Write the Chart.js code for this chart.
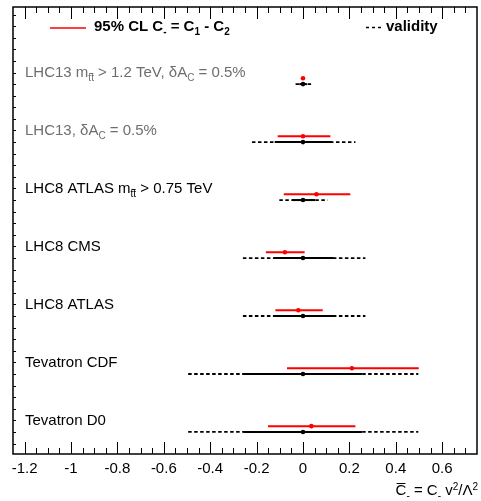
<!DOCTYPE html>
<html>
<head>
<meta charset="utf-8">
<script src="https://cdn.jsdelivr.net/npm/chart.js@4.4.1/dist/chart.umd.min.js"></script>
<style>
  body { margin: 0; background: #fff; }
  canvas { display: block; }
</style>
</head>
<body>
<canvas id="chart" width="481" height="501"></canvas>
<script>
// rows from top to bottom
const rowLabels = [
    "LHC13 m_{tt} > 1.2 TeV, δA_{C} = 0.5%",
    "LHC13, δA_{C} = 0.5%",
    "LHC8 ATLAS m_{tt} > 0.75 TeV",
    "LHC8 CMS",
    "LHC8 ATLAS",
    "Tevatron CDF",
    "Tevatron D0"
];
const rowGray = [true, true, false, false, false, false, false];
const rowPos = [6, 5, 4, 3, 2, 1, 0];

// 95% CL on C- (red)
const redCentral = [0.0, 0.0, 0.058, -0.078, -0.02, 0.211, 0.036];
const redLow = [-0.004, -0.109, -0.083, -0.16, -0.119, -0.069, -0.151];
const redHigh = [0.004, 0.118, 0.204, 0.007, 0.085, 0.499, 0.226];

// validity ranges (black)
const validLow = [-0.032, -0.22, -0.102, -0.259, -0.259, -0.495, -0.495];
const validHigh = [0.035, 0.226, 0.106, 0.269, 0.269, 0.497, 0.497];
const solidLow = [-0.016, -0.122, -0.047, -0.126, -0.126, -0.256, -0.256];
const solidHigh = [0.017, 0.125, 0.053, 0.132, 0.132, 0.254, 0.254];

const xTicks = [-1.2, -1, -0.8, -0.6, -0.4, -0.2, 0, 0.2, 0.4, 0.6];
const xMin = -1.25, xMax = 0.75;
const redOffset = 0.1;

const FONT = '"Liberation Sans", Arial, sans-serif';

// split "a_{b}c^{d}" into parts
function parseRich(str) {
    const parts = [];
    const re = /([_^])\{([^}]*)\}/g;
    let last = 0, m;
    while ((m = re.exec(str)) !== null) {
        if (m.index > last) parts.push([str.slice(last, m.index), '']);
        parts.push([m[2], m[1] === '_' ? 'sub' : 'sup']);
        last = re.lastIndex;
    }
    if (last < str.length) parts.push([str.slice(last), '']);
    return parts;
}

function drawRich(ctx, x, y, parts, size, weight, color, align) {
    const small = Math.round(size * 0.68);
    const fontFor = mode => (weight + ' ' + ((mode === 'sub' || mode === 'sup') ? small : size) + 'px ' + FONT);
    let total = 0;
    parts.forEach(p => { ctx.font = fontFor(p[1]); total += ctx.measureText(p[0]).width; });
    let cx = align === 'right' ? x - total : x;
    ctx.save();
    ctx.fillStyle = color;
    ctx.strokeStyle = color;
    ctx.textBaseline = 'middle';
    ctx.textAlign = 'left';
    parts.forEach(p => {
        ctx.font = fontFor(p[1]);
        let dy = 0;
        if (p[1] === 'sub') dy = size * 0.38;
        if (p[1] === 'sup') dy = -size * 0.28;
        const w = ctx.measureText(p[0]).width;
        ctx.fillText(p[0], cx, y + dy);
        if (p[1] === 'bar') {
            ctx.lineWidth = 1;
            ctx.beginPath();
            ctx.moveTo(cx + 1, y - size * 0.5);
            ctx.lineTo(cx + w - 1, y - size * 0.5);
            ctx.stroke();
        }
        cx += w;
    });
    ctx.restore();
}

const framePlugin = {
    id: 'frame',
    afterDraw(chart) {
        const { ctx, chartArea: { left, right, top, bottom }, scales: { x, y } } = chart;
        ctx.save();
        ctx.strokeStyle = '#000';
        ctx.lineWidth = 1.5;
        ctx.strokeRect(left, top, right - left, bottom - top);

        // x ticks, inward, bottom and top
        ctx.lineWidth = 1;
        ctx.beginPath();
        for (let i = 0; i <= 40; i++) {
            const v = xMin + i * 0.05;
            const px = Math.round(x.getPixelForValue(v)) + 0.5;
            if (px <= left + 1 || px >= right - 1) continue;
            const major = Math.abs(v / 0.2 - Math.round(v / 0.2)) < 1e-6;
            const len = major ? 12 : 6;
            ctx.moveTo(px, bottom);
            ctx.lineTo(px, bottom - len);
            ctx.moveTo(px, top);
            ctx.lineTo(px, top + len);
        }
        // small y ticks on the left frame
        for (let v = -0.2; v <= 7.3; v += 0.2) {
            const py = Math.round(y.getPixelForValue(v)) + 0.5;
            if (py <= top + 2 || py >= bottom - 2) continue;
            ctx.moveTo(left, py);
            ctx.lineTo(left + 3, py);
        }
        ctx.stroke();

        // row labels
        rowLabels.forEach((lab, i) => {
            drawRich(ctx, left + 12, y.getPixelForValue(rowPos[i] + 0.2), parseRich(lab), 15, 'normal',
                rowGray[i] ? '#6e6e6e' : '#000', 'left');
        });
        // subscript bar over "tt"
        [0, 2].forEach(i => {
            ctx.font = '15px ' + FONT;
            const pre = parseRich(rowLabels[i])[0][0];
            const sx = left + 12 + ctx.measureText(pre).width;
            const sy = y.getPixelForValue(rowPos[i] + 0.2) + 1;
            ctx.lineWidth = 1;
            ctx.strokeStyle = rowGray[i] ? '#6e6e6e' : '#000';
            ctx.beginPath();
            ctx.moveTo(sx + 1, sy);
            ctx.lineTo(sx + 5, sy);
            ctx.stroke();
        });

        // legend
        ctx.strokeStyle = '#ff0000';
        ctx.lineWidth = 1.5;
        ctx.beginPath();
        ctx.moveTo(50, 28);
        ctx.lineTo(86, 28);
        ctx.stroke();
        drawRich(ctx, 94, 27, [['95% CL C', ''], ['-', 'sub'], [' = C', ''], ['1', 'sub'], [' - C', ''], ['2', 'sub']],
            15, 'bold', '#000', 'left');
        ctx.strokeStyle = '#000';
        ctx.setLineDash([3, 3]);
        ctx.beginPath();
        ctx.moveTo(366, 27.5);
        ctx.lineTo(384, 27.5);
        ctx.stroke();
        ctx.setLineDash([]);
        drawRich(ctx, 386, 27, [['validity', '']], 15, 'bold', '#000', 'left');

        // axis title
        drawRich(ctx, 478, 491, [['C', 'bar'], ['-', 'sub'], [' = C', ''], ['-', 'sub'], [' v', ''], ['2', 'sup'], ['/Λ', ''], ['2', 'sup']],
            15, 'normal', '#000', 'right');
        ctx.restore();
    }
};

const datasets = [];
rowPos.forEach((yv, i) => {
    datasets.push({
        data: [{ x: validLow[i], y: yv }, { x: validHigh[i], y: yv }],
        showLine: true, borderColor: '#000', borderWidth: 1.8, borderDash: [3.5, 2.5], pointRadius: 0
    });
    datasets.push({
        data: [{ x: solidLow[i], y: yv }, { x: solidHigh[i], y: yv }],
        showLine: true, borderColor: '#000', borderWidth: 2, pointRadius: 0
    });
    datasets.push({
        data: [{ x: redLow[i], y: yv + redOffset }, { x: redHigh[i], y: yv + redOffset }],
        showLine: true, borderColor: '#ff0000', borderWidth: 2, pointRadius: 0
    });
});
datasets.push({
    data: rowPos.map(yv => ({ x: 0, y: yv })),
    showLine: false, pointRadius: 2.3, pointBackgroundColor: '#000', pointBorderWidth: 0
});
datasets.push({
    data: rowPos.map((yv, i) => ({ x: redCentral[i], y: yv + redOffset })),
    showLine: false, pointRadius: 2.3, pointBackgroundColor: '#ff0000', pointBorderWidth: 0
});

new Chart(document.getElementById('chart').getContext('2d'), {
    type: 'scatter',
    data: { datasets },
    options: {
        responsive: false,
        animation: false,
        layout: { padding: { left: 13, right: 2, top: 7, bottom: 0 } },
        plugins: { legend: { display: false }, tooltip: { enabled: false } },
        scales: {
            x: {
                type: 'linear',
                min: xMin,
                max: xMax,
                grid: { display: false, drawTicks: false },
                border: { display: false },
                afterBuildTicks: scale => { scale.ticks = xTicks.map(v => ({ value: v })); },
                afterFit: scale => { scale.height = 47; },
                ticks: {
                    padding: 6,
                    color: '#000',
                    font: { size: 15, family: FONT },
                    maxRotation: 0,
                    autoSkip: false,
                    callback: v => String(v)
                }
            },
            y: {
                type: 'linear',
                display: false,
                min: -0.38,
                max: 7.33
            }
        }
    },
    plugins: [framePlugin]
});
</script>
</body>
</html>
